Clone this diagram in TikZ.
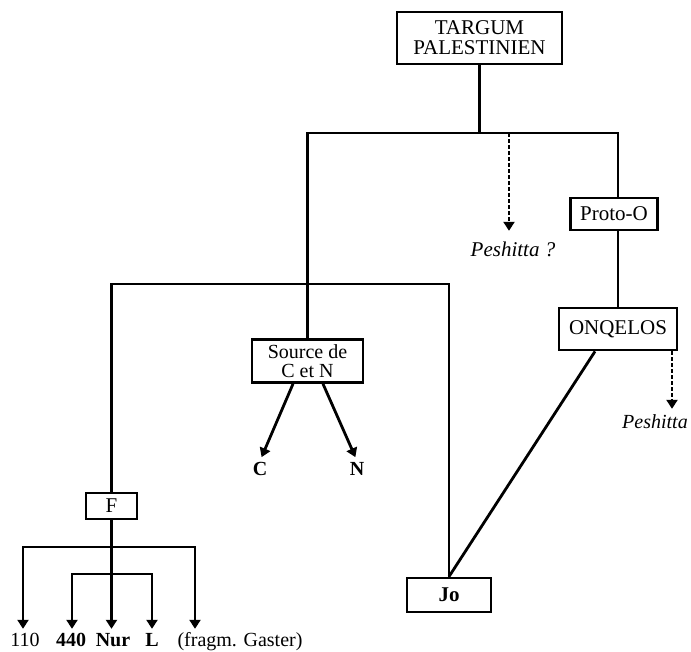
\documentclass[tikz,border=0pt]{standalone}
\usepackage{fontspec}
\setmainfont{Liberation Serif}
\usetikzlibrary{arrows.meta}
\begin{document}
\begin{tikzpicture}[x=1pt,y=-1pt,
  every node/.style={font=\fontsize{21}{20}\selectfont, inner sep=0pt},
  box/.style={draw, line width=2.8pt, align=center},
  ln/.style={line width=2.8pt},
  arr/.style={line width=2.8pt,-{Triangle[length=9pt,width=11pt]}},
  darr/.style={line width=2.2pt, dash pattern=on 4pt off 2pt,-{Triangle[length=9pt,width=11pt]}},
  lbl/.style={anchor=base, text height=14pt, text depth=4pt, font=\fontsize{20}{20}\selectfont},
  bl/.style={lbl, font=\fontsize{20}{20}\selectfont\bfseries},
]
\useasboundingbox (0,0) rectangle (691,652);
% boxes
\node[box, minimum width=165pt, minimum height=52pt] (T) at (479.5,38) {TARGUM\\PALESTINIEN};
\node[box, minimum width=87pt, minimum height=32pt] (P) at (614,214) {Proto-O};
\node[box, minimum width=118pt, minimum height=42pt] (O) at (618,329) {ONQELOS};
\node[box, minimum width=111pt, minimum height=43pt, font=\fontsize{20}{19}\selectfont] (S) at (307.5,361) {Source de\\C et N};
\node[box, minimum width=51pt, minimum height=26pt] (F) at (111.5,506) {F};
\node[box, minimum width=84pt, minimum height=34pt, font=\fontsize{21}{20}\selectfont\bfseries] (Jo) at (449,595) {Jo};
% labels
\node[lbl, font=\fontsize{21}{20}\selectfont\itshape] (pe1) at (513,257) {Peshitta ?};
\node[lbl, anchor=base west, font=\fontsize{20}{20}\selectfont\itshape] (pe2) at (622,428) {Peshitta};
\node[bl] (C) at (260,475) {C};
\node[bl] (N) at (357,475) {N};
\node[lbl] (l110) at (25,646) {110};
\node[bl] (l440) at (71,646) {440};
\node[bl] (lnur) at (113,646) {Nur};
\node[bl] (lL) at (152,646) {L};
\node[lbl] (lfr) at (240,646) {(fragm. Gaster)};
% helper coordinates
\coordinate (j) at (0,133);
\coordinate (k) at (0,284);
\coordinate (d1) at (509,133);
\coordinate (d2) at (672,0);
\coordinate (ox) at (595,0);
\coordinate (sa) at (293,0);
\coordinate (sb) at (323,0);
\coordinate (b1) at (0,547);
\coordinate (b2) at (0,574);
\coordinate (g) at (195,0);
\coordinate (x1) at (23,0);
\coordinate (x2) at (72,0);
\coordinate (x3) at (152,0);
% connectors
\draw[ln] (T.south) -- (T.south |- j);
\draw[ln] (S.north) |- (O.north |- j) -- (O.north |- P.north);
\draw[ln] (O.north |- P.south) -- (O.north);
\draw[darr, shorten >=12pt] (d1) -- (d1 |- pe1.north);
\draw[darr, shorten >=5pt] (O.south -| d2) -- (d2 |- pe2.north);
\draw[ln] (F.north) |- (Jo.north |- k) -- (Jo.north);
\draw[ln] (O.south -| ox) -- (Jo.north);
\draw[arr, shorten >=4pt] (S.south -| sa) -- (C.north);
\draw[arr, shorten >=4pt] (S.south -| sb) -- (N.north);
\draw[arr, shorten >=3pt] (F.south) -- (F.south |- lnur.north);
\draw[arr, shorten >=3pt] (F.south |- b1) -| (x1 |- l110.north);
\draw[arr, shorten >=3pt] (F.south |- b1) -| (g |- lfr.north);
\draw[arr, shorten >=3pt] (F.south |- b2) -| (x2 |- l440.north);
\draw[arr, shorten >=3pt] (F.south |- b2) -| (x3 |- lL.north);
\end{tikzpicture}
\end{document}
